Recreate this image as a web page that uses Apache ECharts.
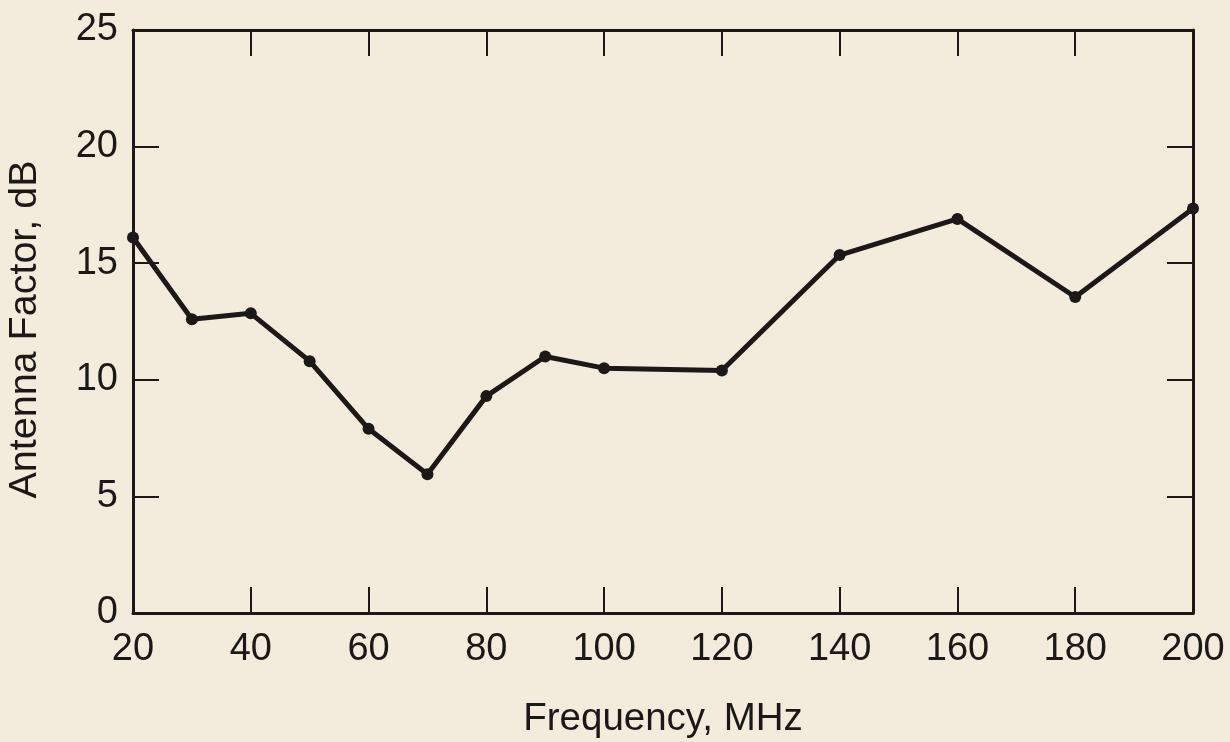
<!DOCTYPE html>
<html>
<head>
<meta charset="utf-8">
<title>Antenna Factor vs Frequency</title>
<script src="https://cdn.jsdelivr.net/npm/echarts@6/dist/echarts.min.js"></script>
<style>
  html, body { margin: 0; padding: 0; background: #f3ebdc; }
  #chart { width: 1230px; height: 742px; }
</style>
</head>
<body>
<div id="chart"></div>
<script>
// Measured antenna factor (dB) at each frequency (MHz)
const frequencies = [20, 30, 40, 50, 60, 70, 80, 90, 100, 120, 140, 160, 180, 200];
const antennaFactor = [16.1, 12.6, 12.85, 10.8, 7.9, 5.95, 9.3, 11.0, 10.5, 10.4, 15.35, 16.9, 13.55, 17.35];

const xTitle = 'Frequency, MHz';
const yTitle = 'Antenna Factor, dB';

const ink = '#1c1818';
const fontFamily = '"Liberation Sans", Arial, sans-serif';

const points = frequencies.map((f, i) => [f, antennaFactor[i]]);

// Frame axes: heavy line, ticks pointing into the plot
const axisLine = { show: true, onZero: false, lineStyle: { color: ink, width: 3 } };
const axisTick = { show: true, inside: true, length: 26, lineStyle: { color: ink, width: 2 } };

const chart = echarts.init(document.getElementById('chart'), null, { renderer: 'canvas' });
chart.setOption({
  backgroundColor: '#f3ebdc',
  animation: false,
  grid: { left: 133, right: 37, top: 30, bottom: 129, containLabel: false, outerBoundsMode: 'none' },
  xAxis: [
    {
      type: 'value', position: 'bottom', min: 20, max: 200, interval: 20,
      axisLine, axisTick, splitLine: { show: false },
      axisLabel: { color: ink, fontSize: 38, fontFamily, margin: 18 },
      name: xTitle, nameLocation: 'middle', nameGap: 87,
      nameTextStyle: { color: ink, fontSize: 38.5, fontFamily }
    },
    {
      type: 'value', position: 'top', min: 20, max: 200, interval: 20,
      axisLine, axisTick, splitLine: { show: false }, axisLabel: { show: false }
    }
  ],
  yAxis: [
    {
      type: 'value', position: 'left', min: 0, max: 25, interval: 5,
      axisLine, axisTick, splitLine: { show: false },
      axisLabel: { color: ink, fontSize: 38, fontFamily, margin: 15 },
      name: yTitle, nameLocation: 'middle', nameGap: 88,
      nameTextStyle: { color: ink, fontSize: 39.5, fontFamily, padding: [0, 16, 0, 0] }
    },
    {
      type: 'value', position: 'right', min: 0, max: 25, interval: 5,
      axisLine, axisTick, splitLine: { show: false }, axisLabel: { show: false }
    }
  ],
  series: [
    {
      type: 'line',
      xAxisIndex: 0,
      yAxisIndex: 0,
      data: points,
      symbol: 'circle',
      symbolSize: 12,
      showAllSymbol: true,
      clip: false,
      lineStyle: { color: ink, width: 5 },
      itemStyle: { color: ink }
    }
  ]
});
</script>
</body>
</html>
